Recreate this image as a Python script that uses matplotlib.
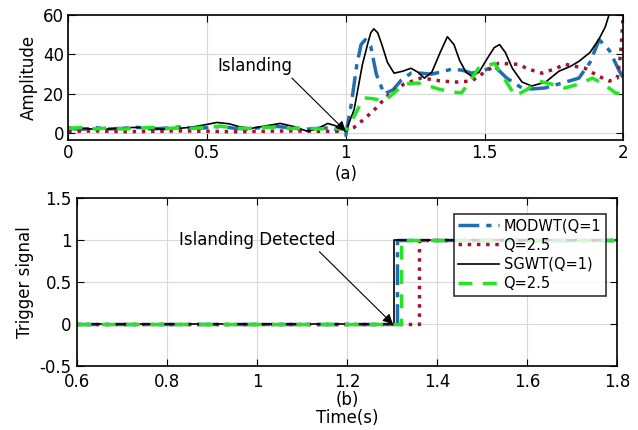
import matplotlib.pyplot as plt

# Panel (a): detection amplitude of each transform around the islanding event
t_modwt1 = [0, 0.05, 0.1, 0.15, 0.2, 0.25, 0.3, 0.35, 0.4, 0.45, 0.5, 0.55, 0.6, 0.65, 0.7,
            0.75, 0.8, 0.85, 0.9, 0.95, 0.98, 1.0, 1.02, 1.04, 1.055, 1.07, 1.09, 1.11, 1.138,
            1.17, 1.2, 1.235, 1.27, 1.308, 1.34, 1.38, 1.42, 1.453, 1.49, 1.536, 1.58, 1.634,
            1.67, 1.717, 1.78, 1.84, 1.88, 1.913, 1.95, 1.986, 2.0]
a_modwt1 = [2.5, 2.0, 2.8, 2.2, 2.5, 3.0, 2.2, 2.6, 3.2, 2.5, 2.8, 3.5, 2.5, 2.2, 3.0,
            3.5, 2.8, 2.0, 2.5, 2.8, 1.0, -1.0, 15, 35, 45, 47.5, 44, 30, 20,
            22, 27, 30.5, 30.5, 30, 31, 32.5, 32, 30.5, 31.5, 34, 28, 23,
            22.5, 23, 25.5, 28, 36, 47.5, 42, 31.5, 28]

t_modwt25 = [0, 0.1, 0.2, 0.3, 0.4, 0.5, 0.6, 0.7, 0.8, 0.9, 0.97, 1.0, 1.03, 1.06, 1.1,
             1.13, 1.163, 1.21, 1.27, 1.3, 1.344, 1.4, 1.453, 1.5, 1.55, 1.62, 1.66, 1.706,
             1.75, 1.79, 1.862, 1.91, 1.95, 1.978, 1.99, 2.0]
a_modwt25 = [1.0, 1.2, 0.8, 1.0, 1.2, 1.0, 0.8, 1.0, 1.2, 1.0, 1.0, 1.5, 3.0, 6.5, 11.5,
             16, 20.5, 25, 28, 27.5, 26.5, 26, 26.5, 31, 35.5, 35, 32.5, 30.5,
             32.5, 35, 33, 29, 26.5, 28, 40, 60]

t_sgwt1 = [0, 0.05, 0.1, 0.15, 0.2, 0.25, 0.3, 0.35, 0.4, 0.45, 0.5, 0.536, 0.58, 0.62, 0.66,
           0.7, 0.764, 0.81, 0.862, 0.9, 0.935, 0.97, 1.0, 1.03, 1.06, 1.08, 1.09, 1.101,
           1.115, 1.13, 1.15, 1.174, 1.205, 1.235, 1.26, 1.283, 1.31, 1.34, 1.366, 1.39,
           1.41, 1.433, 1.453, 1.48, 1.51, 1.535, 1.554, 1.575, 1.6, 1.635, 1.67, 1.72,
           1.768, 1.81, 1.84, 1.88, 1.913, 1.935, 1.946, 1.96]
a_sgwt1 = [3.0, 2.5, 2.0, 2.2, 2.8, 3.0, 2.4, 2.0, 2.5, 3.2, 4.5, 5.5, 4.8, 3.2, 2.5,
           3.5, 5.0, 3.5, 1.0, 2.5, 5.0, 3.5, 1.0, 12, 35, 46, 51, 53,
           51, 45, 36, 30.5, 31.5, 33, 31, 28, 31, 41, 49, 45,
           37, 31, 29, 31, 38, 43.5, 45, 41, 33, 26, 24, 26,
           31.5, 34, 36.5, 41, 48, 54, 59, 64]

t_sgwt25 = [0, 0.05, 0.1, 0.15, 0.2, 0.25, 0.3, 0.35, 0.4, 0.45, 0.5, 0.55, 0.6, 0.65, 0.7,
            0.75, 0.8, 0.85, 0.9, 0.95, 1.0, 1.007, 1.035, 1.065, 1.1, 1.138, 1.17, 1.21, 1.26,
            1.3, 1.333, 1.38, 1.417, 1.45, 1.478, 1.536, 1.57, 1.61, 1.65, 1.695, 1.74, 1.79,
            1.84, 1.888, 1.93, 1.971, 2.0]
a_sgwt25 = [2.5, 3.0, 2.2, 2.8, 2.2, 2.5, 3.0, 2.4, 2.8, 2.5, 3.2, 3.6, 2.6, 2.5, 3.0,
            3.2, 2.4, 2.8, 2.2, 2.5, 2.0, 2.5, 10, 18, 17.5, 16.5, 20, 25, 25.5,
            24, 22.5, 21, 20.5, 27, 33, 35.5, 28, 19, 22, 26.5, 25, 23,
            25, 28, 25, 20.5, 20]

# Panel (b): trigger signal, each transform switches to 1 when it detects islanding
t_trip = [0.6, 1.8]
trip_modwt1 = 1.312
trip_modwt25 = 1.36
trip_sgwt1 = 1.305
trip_sgwt25 = 1.32

labels = ['MODWT(Q=1', 'Q=2.5', 'SGWT(Q=1)', 'Q=2.5']

c_blue = '#1f6fb0'
c_red = '#a2142f'
c_black = 'black'
c_green = '#22e622'
fs = 12


def step(t_on):
    return [t_trip[0], t_on, t_on, t_trip[1]], [0, 0, 1, 1]


fig = plt.figure(figsize=(6.38, 4.3), dpi=100)
ax1 = fig.add_axes([0.107, 0.674, 0.870, 0.291])
ax2 = fig.add_axes([0.121, 0.148, 0.846, 0.392])

ax1.plot(t_modwt1, a_modwt1, color=c_blue, ls='-.', lw=2.5, dashes=(6, 2, 1.5, 2))
ax1.plot(t_modwt25, a_modwt25, color=c_red, ls=':', lw=2.5)
ax1.plot(t_sgwt1, a_sgwt1, color=c_black, ls='-', lw=1.2)
ax1.plot(t_sgwt25, a_sgwt25, color=c_green, ls='--', lw=2.5, dashes=(4, 3))
ax1.set_xlim(0, 2)
ax1.set_ylim(-3.5, 60)
ax1.set_xticks([0, 0.5, 1, 1.5, 2])
ax1.set_xticklabels(['0', '0.5', '1', '1.5', '2'])
ax1.set_yticks([0, 20, 40, 60])
ax1.set_ylabel('Amplitude', fontsize=fs)
ax1.set_xlabel('(a)', fontsize=fs, labelpad=2)
ax1.annotate('Islanding', xy=(1.0, 1.0), xytext=(0.674, 34), fontsize=fs,
             ha='center', va='center',
             arrowprops=dict(arrowstyle='-|>', color='black', lw=0.8, relpos=(0.95, 0.0),
                             mutation_scale=15, shrinkA=0, shrinkB=0))

x, y = step(trip_modwt1)
ax2.plot(x, y, color=c_blue, ls='-.', lw=2.5, dashes=(6, 2, 1.5, 2), label=labels[0])
x, y = step(trip_modwt25)
ax2.plot(x, y, color=c_red, ls=':', lw=2.5, label=labels[1])
x, y = step(trip_sgwt1)
ax2.plot(x, y, color=c_black, ls='-', lw=1.2, label=labels[2])
x, y = step(trip_sgwt25)
ax2.plot(x, y, color=c_green, ls='--', lw=2.5, dashes=(4, 3), label=labels[3])
ax2.set_xlim(0.6, 1.8)
ax2.set_ylim(-0.5, 1.5)
ax2.set_xticks([0.6, 0.8, 1.0, 1.2, 1.4, 1.6, 1.8])
ax2.set_xticklabels(['0.6', '0.8', '1', '1.2', '1.4', '1.6', '1.8'])
ax2.set_yticks([-0.5, 0, 0.5, 1, 1.5])
ax2.set_yticklabels(['-0.5', '0', '0.5', '1', '1.5'])
ax2.set_ylabel('Trigger signal', fontsize=fs)
ax2.set_xlabel('(b)\nTime(s)', fontsize=fs, labelpad=0, linespacing=1.0)
ax2.annotate('Islanding Detected', xy=(1.302, 0), xytext=(1.0, 1.0), fontsize=fs,
             ha='center', va='center',
             arrowprops=dict(arrowstyle='-|>', color='black', lw=0.8, relpos=(0.88, 0.0),
                             mutation_scale=15, shrinkA=0, shrinkB=0))
leg = ax2.legend(loc='upper left', bbox_to_anchor=(0.698, 0.905), fontsize=10.5,
                 handlelength=2.8, frameon=True, fancybox=False, borderaxespad=0,
                 labelspacing=0.3, handletextpad=0.3, borderpad=0.3)
leg.get_frame().set_edgecolor('black')
leg.get_frame().set_linewidth(1.2)

for ax in (ax1, ax2):
    ax.grid(True, color='#d9d9d9', lw=0.8)
    ax.set_axisbelow(True)
    ax.tick_params(direction='in', top=True, right=True, labelsize=fs, length=5, pad=3)
    for s in ax.spines.values():
        s.set_linewidth(1.2)
ax2.tick_params(axis='x', pad=5)
ax2.tick_params(axis='y', pad=4)

fig.savefig('out.png', dpi=100)
